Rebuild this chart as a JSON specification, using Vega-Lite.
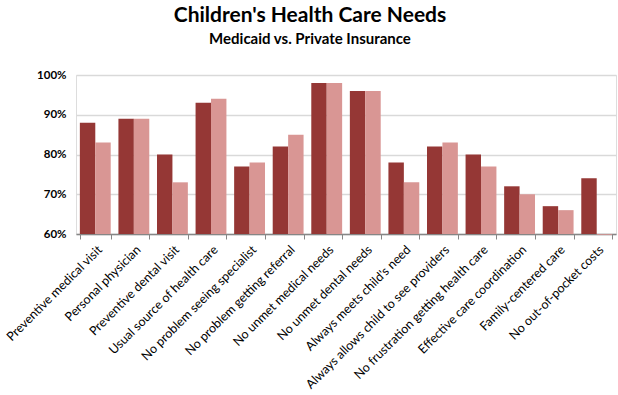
{
  "$schema": "https://vega.github.io/schema/vega-lite/v6.json",
  "width": 540,
  "height": 159,
  "autosize": {"type": "none"},
  "padding": {"left": 76, "top": 75, "right": 2, "bottom": 161},
  "background": "white",
  "title": {
    "text": "Children's Health Care Needs",
    "subtitle": "Medicaid vs. Private Insurance",
    "anchor": "middle",
    "frame": "group",
    "dx": -36,
    "offset": 22,
    "font": "Lato",
    "fontSize": 21,
    "fontWeight": "bold",
    "color": "#000000",
    "subtitleFont": "Lato",
    "subtitleFontSize": 15,
    "subtitleFontWeight": "bold",
    "subtitleColor": "#000000",
    "subtitlePadding": 6
  },
  "data": {
    "values": [
      {"need": "Preventive medical visit", "insurance": "Medicaid", "pct": 88},
      {"need": "Preventive medical visit", "insurance": "Private Insurance", "pct": 83},
      {"need": "Personal physician", "insurance": "Medicaid", "pct": 89},
      {"need": "Personal physician", "insurance": "Private Insurance", "pct": 89},
      {"need": "Preventive dental visit", "insurance": "Medicaid", "pct": 80},
      {"need": "Preventive dental visit", "insurance": "Private Insurance", "pct": 73},
      {"need": "Usual source of health care", "insurance": "Medicaid", "pct": 93},
      {"need": "Usual source of health care", "insurance": "Private Insurance", "pct": 94},
      {"need": "No problem seeing specialist", "insurance": "Medicaid", "pct": 77},
      {"need": "No problem seeing specialist", "insurance": "Private Insurance", "pct": 78},
      {"need": "No problem getting referral", "insurance": "Medicaid", "pct": 82},
      {"need": "No problem getting referral", "insurance": "Private Insurance", "pct": 85},
      {"need": "No unmet medical needs", "insurance": "Medicaid", "pct": 98},
      {"need": "No unmet medical needs", "insurance": "Private Insurance", "pct": 98},
      {"need": "No unmet dental needs", "insurance": "Medicaid", "pct": 96},
      {"need": "No unmet dental needs", "insurance": "Private Insurance", "pct": 96},
      {"need": "Always meets child's need", "insurance": "Medicaid", "pct": 78},
      {"need": "Always meets child's need", "insurance": "Private Insurance", "pct": 73},
      {"need": "Always allows child to see providers", "insurance": "Medicaid", "pct": 82},
      {"need": "Always allows child to see providers", "insurance": "Private Insurance", "pct": 83},
      {"need": "No frustration getting health care", "insurance": "Medicaid", "pct": 80},
      {"need": "No frustration getting health care", "insurance": "Private Insurance", "pct": 77},
      {"need": "Effective care coordination", "insurance": "Medicaid", "pct": 72},
      {"need": "Effective care coordination", "insurance": "Private Insurance", "pct": 70},
      {"need": "Family-centered care", "insurance": "Medicaid", "pct": 67},
      {"need": "Family-centered care", "insurance": "Private Insurance", "pct": 66},
      {"need": "No out-of-pocket costs", "insurance": "Medicaid", "pct": 74},
      {"need": "No out-of-pocket costs", "insurance": "Private Insurance", "pct": 59.8}
    ]
  },
  "mark": {"type": "bar", "clip": false},
  "encoding": {
    "x": {
      "field": "need",
      "type": "nominal",
      "sort": null,
      "title": null,
      "scale": {"paddingInner": 0.2, "paddingOuter": 0.1},
      "axis": {
        "labelAngle": -45,
        "labelFont": "Lato",
        "labelFontSize": 12.5,
        "labelColor": "#000000",
        "labelPadding": 4,
        "labelLimit": 300,
        "tickBand": "extent",
        "tickColor": "#868686",
        "tickSize": 5,
        "domainColor": "#868686",
        "domainWidth": 1.5,
        "grid": false
      }
    },
    "xOffset": {"field": "insurance", "type": "nominal", "sort": ["Medicaid", "Private Insurance"]},
    "y": {
      "field": "pct",
      "type": "quantitative",
      "title": null,
      "scale": {"domain": [60, 100], "zero": false, "nice": false},
      "axis": {
        "values": [60, 70, 80, 90, 100],
        "labelExpr": "datum.value + '%'",
        "labelFont": "Lato",
        "labelFontSize": 11.5,
        "labelFontWeight": "bold",
        "labelColor": "#000000",
        "labelPadding": 10,
        "domain": false,
        "ticks": false,
        "gridColor": "#d9d9d9",
        "gridWidth": 1.5
      }
    },
    "y2": {"datum": 60},
    "color": {
      "field": "insurance",
      "type": "nominal",
      "scale": {"domain": ["Medicaid", "Private Insurance"], "range": ["#953735", "#d99694"]},
      "legend": null
    }
  }
}
